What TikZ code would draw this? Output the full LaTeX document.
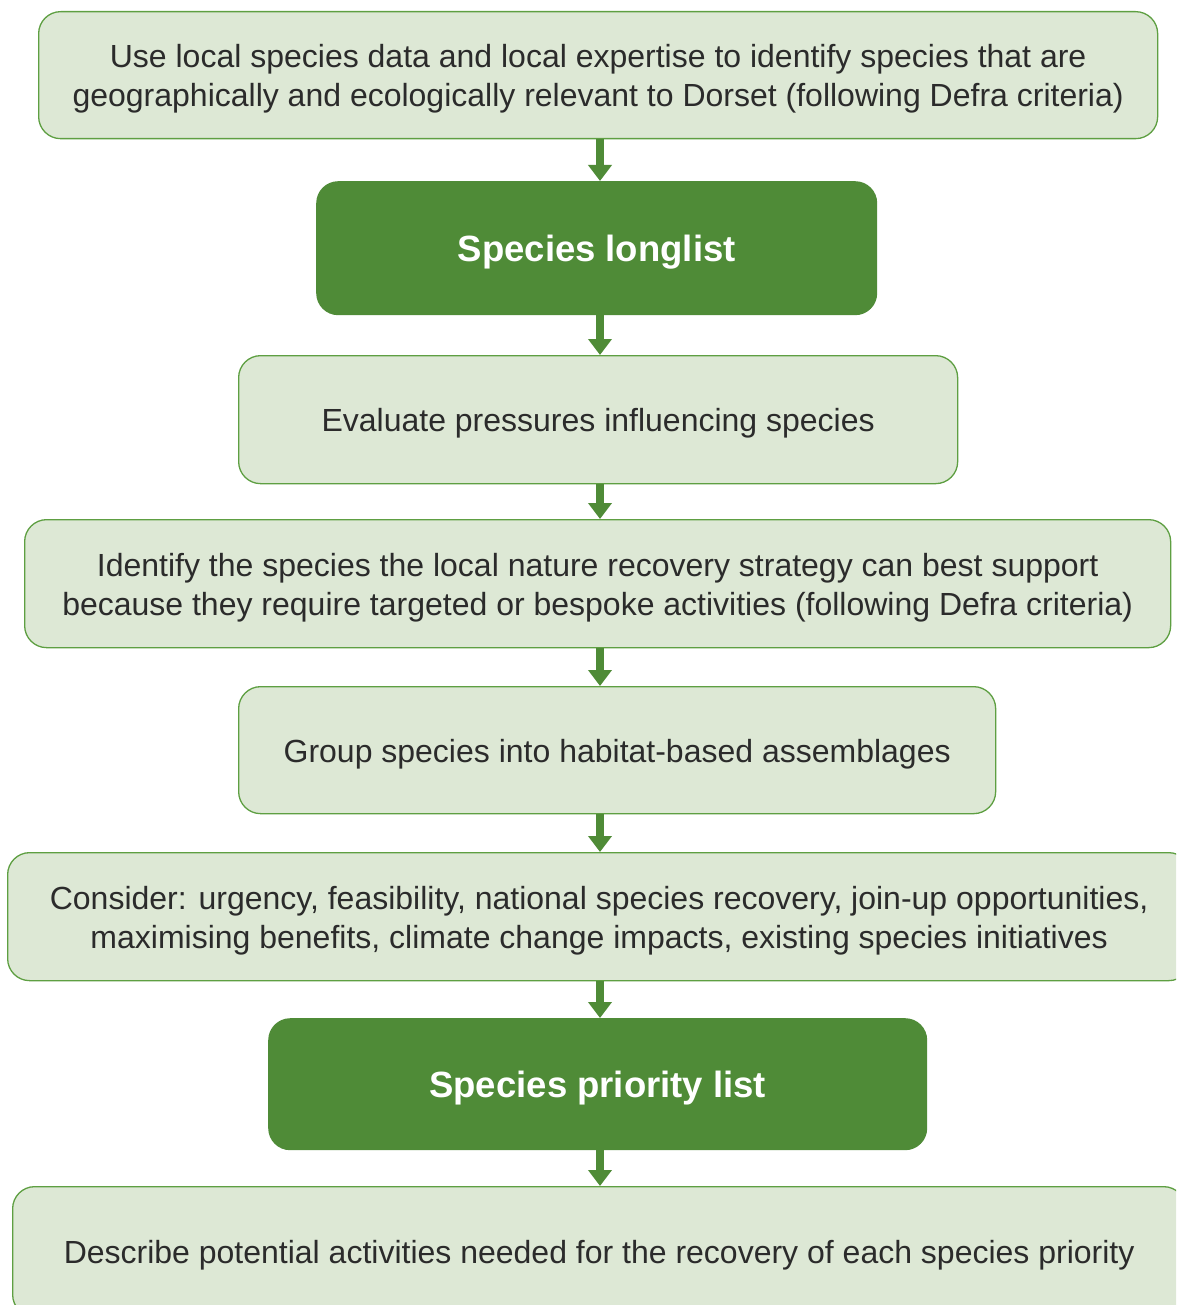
\documentclass[tikz,border=0pt]{standalone}
\usepackage{fontspec}
\setmainfont{Liberation Sans}
\usetikzlibrary{arrows.meta}
\definecolor{lightgreen}{HTML}{DDE8D5}
\definecolor{darkgreen}{HTML}{4F8B37}
\definecolor{bordergreen}{HTML}{5E9F42}
\definecolor{txt}{HTML}{2B2B2B}
\tikzset{
  lightbox/.style={draw=bordergreen, line width=1.3pt, fill=lightgreen, rounded corners=22pt,
    anchor=north west, inner sep=0pt},
  darkbox/.style={fill=darkgreen, rounded corners=22pt, anchor=north west, inner sep=0pt},
  lighttext/.style={align=center, text=txt, inner sep=0pt, font=\fontsize{32}{39}\selectfont},
  darktext/.style={align=center, text=white, inner sep=0pt, font=\fontsize{36.5}{40}\selectfont\bfseries},
  flowarrow/.style={draw=darkgreen, line width=7.5pt,
    -{Triangle[width=23pt,length=16pt]}, darkgreen}
}
\begin{document}
\begin{tikzpicture}[x=1pt,y=-1pt]
\useasboundingbox (0,0) rectangle (1176,1305);
\clip (0,0) rectangle (1176,1305);
\coordinate (ax) at (600,0);
\node[lightbox, minimum width=1119pt, minimum height=127pt] (b1) at (38,11) {};
\node[darkbox, minimum width=561pt, minimum height=134pt] (b2) at (316,181) {};
\node[lightbox, minimum width=719pt, minimum height=128pt] (b3) at (238,355) {};
\node[lightbox, minimum width=1146pt, minimum height=128pt] (b4) at (24,519) {};
\node[lightbox, minimum width=757pt, minimum height=127pt] (b5) at (238,686) {};
\node[lightbox, minimum width=1183pt, minimum height=128pt] (b6) at (7,852) {};
\node[darkbox, minimum width=659pt, minimum height=132pt] (b7) at (268,1018) {};
\node[lightbox, minimum width=1173pt, minimum height=130pt] (b8) at (12,1186) {};
\node[lighttext] (t1) at ([yshift=-4pt]b1.center)
  {Use local species data and local expertise to identify species that are\\
   geographically and ecologically relevant to Dorset (following Defra criteria)};
\node[darktext] (t2) at ([yshift=-4pt]b2.center) {Species longlist};
\node[lighttext] (t3) at ([yshift=-4pt]b3.center) {Evaluate pressures influencing species};
\node[lighttext] (t4) at ([yshift=-4pt]b4.center)
  {Identify the species the local nature recovery strategy can best support\\
   because they require targeted or bespoke activities (following Defra criteria)};
\node[lighttext] (t5) at ([yshift=-4pt]b5.center) {Group species into habitat-based assemblages};
\node[lighttext] (t6) at ([yshift=-4pt]b6.center)
  {Consider: urgency, feasibility, national species recovery, join-up opportunities,\\
   maximising benefits, climate change impacts, existing species initiatives};
\node[darktext] (t7) at ([yshift=-4pt]b7.center) {Species priority list};
\node[lighttext] (t8) at ([yshift=-4pt]b8.center)
  {Describe potential activities needed for the recovery of each species priority};
\draw[flowarrow] (b1.south -| ax) -- (b2.north -| ax);
\draw[flowarrow] (b2.south -| ax) -- (b3.north -| ax);
\draw[flowarrow] (b3.south -| ax) -- (b4.north -| ax);
\draw[flowarrow] (b4.south -| ax) -- (b5.north -| ax);
\draw[flowarrow] (b5.south -| ax) -- (b6.north -| ax);
\draw[flowarrow] (b6.south -| ax) -- (b7.north -| ax);
\draw[flowarrow] (b7.south -| ax) -- (b8.north -| ax);
\end{tikzpicture}
\end{document}
